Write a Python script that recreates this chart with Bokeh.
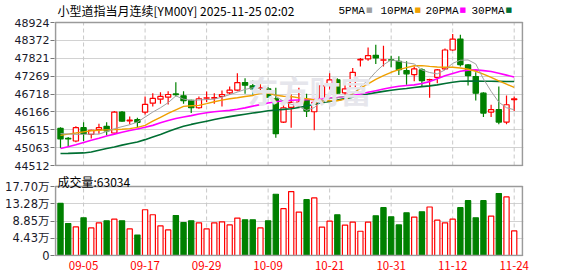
from bokeh.plotting import figure
from bokeh.layouts import column
from bokeh.models import ColumnDataSource, FixedTicker, Label, Range1d
from bokeh.embed import file_html
from bokeh.resources import INLINE

# ---------------- data ----------------
dates = ["09-02", "09-03", "09-04", "09-05", "09-08", "09-09", "09-10", "09-11", "09-12", "09-15",
         "09-16", "09-17", "09-18", "09-19", "09-22", "09-23", "09-24", "09-25", "09-26", "09-29",
         "09-30", "10-01", "10-02", "10-03", "10-06", "10-07", "10-08", "10-09", "10-10", "10-13",
         "10-14", "10-15", "10-16", "10-17", "10-20", "10-21", "10-22", "10-23", "10-24", "10-27",
         "10-28", "10-29", "10-30", "10-31", "11-03", "11-04", "11-05", "11-06", "11-07", "11-10",
         "11-11", "11-12", "11-13", "11-14", "11-17", "11-18", "11-19", "11-20", "11-21", "11-24"]

opens = [45659, 45350, 45268, 45680, 45474, 45618, 45720, 45514, 46159, 45890,
         45925, 46159, 46436, 46559, 46621, 46720, 46663, 46519, 46294, 46590,
         46590, 46642, 46755, 46835, 47072, 46970, 46890, 46878, 46571, 45852,
         46305, 46450, 46540, 46171, 46519, 47001, 47155, 46755, 46909, 47770,
         47800, 47910, 47760, 47775, 47726, 47440, 47317, 47462, 47150, 47234,
         47492, 48076, 48414, 47615, 47256, 46743, 46159, 46233, 45852, 46540]
highs = [45690, 45391, 45720, 45843, 45618, 45802, 45843, 46190, 46190, 46027,
         45987, 46642, 46744, 46775, 46806, 47081, 46806, 46540, 46642, 46796,
         46744, 46826, 46949, 47357, 47204, 47133, 47102, 46928, 46909, 46396,
         46700, 46909, 46724, 46519, 46980, 47357, 47204, 47001, 47523, 47830,
         48156, 48239, 48208, 47901, 47880, 47726, 47563, 47511, 47185, 47492,
         48125, 48568, 48546, 47646, 47388, 46775, 46386, 46949, 46672, 46642]
lows = [45053, 45084, 45230, 45268, 45342, 45495, 45434, 45495, 45864, 45782,
        45699, 46089, 46335, 46417, 46396, 46642, 46417, 46129, 46263, 46468,
        46417, 46335, 46703, 46806, 46724, 46703, 46775, 46601, 45372, 45821,
        45680, 46294, 46006, 45597, 46466, 46847, 46724, 46703, 46878, 47563,
        47747, 47646, 47563, 47542, 47308, 47001, 47112, 46949, 46601, 47050,
        47462, 48055, 47563, 46980, 46519, 46006, 46006, 45782, 45782, 46190]
closes = [45330, 45330, 45680, 45495, 45597, 45680, 45577, 46159, 45883, 45910,
          45843, 46396, 46580, 46642, 46703, 46700, 46509, 46294, 46571, 46601,
          46605, 46703, 46835, 47072, 46989, 46878, 46905, 46621, 45495, 46294,
          46459, 46465, 46190, 46457, 46970, 47155, 46743, 46878, 47388, 47785,
          47901, 47830, 47775, 47765, 47471, 47339, 47492, 47133, 47160, 47462,
          48076, 48414, 47624, 47287, 46743, 46129, 46233, 45852, 46386, 46570]

ma5 = [45495, 45485, 45474, 45474, 45480, 45480, 45560, 45649, 45710, 45770,
       45850, 46006, 46160, 46294, 46450, 46660, 46560, 46519, 46535, 46545,
       46560, 46620, 46700, 46775, 46860, 46909, 46890, 46878, 46650, 46490,
       46400, 46330, 46212, 46300, 46519, 46580, 46601, 46650, 46703, 46950,
       47133, 47400, 47620, 47769, 47726, 47680, 47646, 47460, 47380, 47339,
       47462, 47665, 47760, 47769, 47646, 47185, 46800, 46466, 46294, 46233]
ma10 = [45443, 45480, 45514, 45550, 45585, 45600, 45610, 45618, 45630, 45650,
        45690, 45751, 45880, 46000, 46120, 46230, 46335, 46355, 46366, 46420,
        46480, 46530, 46570, 46601, 46640, 46672, 46740, 46750, 46680, 46650,
        46642, 46600, 46570, 46540, 46519, 46510, 46509, 46560, 46724, 46900,
        47032, 47170, 47287, 47388, 47470, 47530, 47590, 47594, 47570, 47550,
        47545, 47542, 47520, 47480, 47420, 47330, 47230, 47120, 47020, 46920]
ma20 = [45035, 45090, 45150, 45219, 45290, 45350, 45420, 45480, 45540, 45590,
        45640, 45690, 45750, 45830, 45900, 45960, 46006, 46050, 46100, 46140,
        46170, 46195, 46212, 46250, 46290, 46344, 46390, 46440, 46480, 46510,
        46525, 46535, 46545, 46555, 46570, 46590, 46610, 46640, 46672, 46720,
        46770, 46820, 46870, 46920, 46955, 46980, 47000, 47040, 47100, 47190,
        47280, 47350, 47420, 47455, 47462, 47440, 47410, 47360, 47300, 47240]
ma30 = [44880, 44885, 44895, 44900, 44930, 44985, 45035, 45084, 45140, 45190,
        45238, 45310, 45391, 45470, 45560, 45649, 45720, 45780, 45830, 45880,
        45930, 45975, 46020, 46058, 46095, 46130, 46165, 46200, 46225, 46245,
        46264, 46300, 46350, 46400, 46450, 46490, 46530, 46575, 46620, 46670,
        46720, 46760, 46800, 46835, 46865, 46890, 46920, 46945, 46970, 47000,
        47040, 47080, 47112, 47115, 47115, 47112, 47110, 47108, 47105, 47102]

volumes = [133700, 81900, 73300, 96700, 70800, 83700, 88900, 93300, 88900, 68200,
           52600, 117400, 104500, 75900, 65600, 102600, 84500, 88900, 83700, 68200,
           83700, 86300, 78500, 95900, 91500, 91500, 70800, 88900, 157100, 120000,
           164100, 111400, 143300, 147700, 72600, 88100, 104500, 77800, 85500, 62200,
           85500, 101900, 122600, 99300, 78500, 109600, 98500, 112200, 124400, 90700,
           83700, 93300, 122600, 140700, 96700, 140700, 101100, 158900, 150300, 63034]
vol_up = [0, 0, 1, 0, 1, 1, 0, 1, 0, 1,
          0, 1, 1, 1, 1, 0, 0, 0, 1, 1,
          1, 1, 1, 1, 0, 0, 1, 0, 0, 1,
          1, 1, 0, 1, 1, 1, 0, 1, 1, 1,
          1, 0, 0, 0, 0, 0, 1, 0, 1, 1,
          1, 1, 0, 0, 0, 0, 1, 0, 1, 1]

price_tick_labels = ["48924", "48372", "47821", "47269", "46718", "46166", "45615", "45063", "44512"]
vol_ticks = [0, 44300, 88500, 132800, 177000]
vol_tick_labels = ["0", "4.43万", "8.85万", "13.28万", "17.70万"]

title_text = "小型道指当月连续[YM00Y] 2025-11-25 02:02"
ma_names = ["5PMA", "10PMA", "20PMA", "30PMA"]
vol_title = "成交量:63034"

# ---------------- style / geometry ----------------
RED = "#ff0000"
GREEN = "#008000"
MA_COLORS = ["#a0a0a0", "#f0a000", "#ff00ff", "#006f33"]
GRID = "#d2d2d2"
FRAME = "#9a9a9a"
TICK_FONT = "DejaVu Sans, Noto Sans CJK SC"
CJK_FONT = "Noto Sans CJK SC"
MONO_FONT = "Liberation Mono"

W = 578
H1, H2 = 172, 104
BOX_L, BOX_R = 55, 522          # panel box, page pixels
P_TOP, P_BOT = 22, 165          # price box
V_TOP, V_BOT = 186, 255         # volume box
FR_L, FR_R = BOX_L - 1, BOX_R + 1

n = len(dates)
idx = list(range(n))
label_idx = list(range(3, n, 8))

box_x0, box_x1 = -0.65, 60.08
sx = (box_x1 - box_x0) / (BOX_R - BOX_L)
p_lo, p_hi = float(price_tick_labels[-1]), float(price_tick_labels[0])
s1 = (p_hi - p_lo) / (P_BOT - P_TOP)
v_hi = float(vol_ticks[-1])
s2 = v_hi / (V_BOT - V_TOP)

x_range = Range1d(box_x0 - sx, box_x1 + sx)


def px_x(px):
    return box_x0 + (px - BOX_L) * sx


def py1(py):
    return p_hi - (py - P_TOP) * s1


def py2(py):
    return v_hi - (py - V_TOP) * s2


up = [c >= o for o, c in zip(opens, closes)]
src = ColumnDataSource(dict(
    x=idx, h=highs, l=lows,
    top=[max(o, c) for o, c in zip(opens, closes)],
    bottom=[min(o, c) for o, c in zip(opens, closes)],
    line=[RED if u else GREEN for u in up],
    fill=["#ffffff" if u else GREEN for u in up],
))
vsrc = ColumnDataSource(dict(
    x=idx, v=volumes,
    line=[RED if u else GREEN for u in vol_up],
    fill=["#ffffff" if u else GREEN for u in vol_up],
))


def style_common(p, lo, hi):
    p.background_fill_color = "white"
    p.border_fill_color = "white"
    p.outline_line_color = None
    p.xgrid.visible = False
    p.ygrid.grid_line_color = GRID
    p.ygrid.grid_line_width = 1.2
    ax = p.yaxis[0]
    ax.axis_line_color = None
    ax.major_tick_out = 4
    ax.major_tick_in = 0
    ax.minor_tick_line_color = None
    ax.major_tick_line_color = "#777777"
    ax.major_label_standoff = 1
    ax.major_label_text_font = TICK_FONT
    ax.major_label_text_font_size = "11px"
    ax.major_label_text_color = "#1a1a2a"
    # dashed vertical grid at the labelled dates, limited to the panel box
    p.segment(x0=label_idx, y0=[lo] * len(label_idx), x1=label_idx, y1=[hi] * len(label_idx),
              line_color="#c8c8c8", line_dash="4 3", line_width=1)


def draw_box(p, lo, hi):
    p.quad(left=[box_x0], right=[box_x1], bottom=[lo], top=[hi], fill_color=None,
           line_color=FRAME, line_width=1.6)


# ---------------- price panel ----------------
p1 = figure(width=W, height=H1, x_range=x_range,
            y_range=Range1d(p_lo - s1, p_hi + P_TOP * s1),
            x_axis_location=None, toolbar_location=None, output_backend="svg", title=None,
            min_border_left=FR_L, min_border_right=W - FR_R, min_border_top=0,
            min_border_bottom=H1 - (P_BOT + 1))
style_common(p1, p_lo, p_hi)
p1.yaxis[0].ticker = FixedTicker(ticks=[int(s) for s in price_tick_labels])
p1.yaxis[0].major_label_overrides = {int(s): s for s in price_tick_labels}

# watermark
p1.add_layout(Label(x=px_x(247), y=py1(89), text="东方财富", text_font=CJK_FONT,
                    text_font_size="31px", text_font_style="bold", text_color="#e6e6ec",
                    text_baseline="middle", text_align="left"))

p1.segment(x0="x", y0="h", x1="x", y1="l", color="line", line_width=1.2, source=src)
p1.vbar(x="x", width=0.68, top="top", bottom="bottom", fill_color="fill",
        line_color="line", line_width=1.2, source=src)

for vals, col, lw in zip([ma30, ma20, ma10, ma5], MA_COLORS[::-1], [1.6, 1.6, 1.4, 1.0]):
    p1.line(idx, vals, line_color=col, line_width=lw)

draw_box(p1, p_lo, p_hi)

p1.add_layout(Label(x=px_x(57), y=py1(10), text=title_text, text_font=CJK_FONT,
                    text_font_size="12px", text_color="#000000", text_baseline="middle"))
leg_x = [338, 380, 425, 471]
for name, col, lx in zip(ma_names, MA_COLORS, leg_x):
    tw = 6.6 * len(name)
    p1.add_layout(Label(x=px_x(lx), y=py1(10), text=name, text_font=MONO_FONT,
                        text_font_size="11px", text_color="#000000", text_baseline="middle"))
    p1.add_layout(Label(x=px_x(lx + tw + 1), y=py1(9), text="■", text_font="DejaVu Sans",
                        text_font_size="7px", text_color=col, text_baseline="middle"))

# ---------------- volume panel ----------------
p2 = figure(width=W, height=H2, x_range=x_range,
            y_range=Range1d(-s2, v_hi + (V_TOP - H1) * s2),
            toolbar_location=None, output_backend="svg", title=None,
            min_border_left=FR_L, min_border_right=W - FR_R, min_border_top=0,
            min_border_bottom=H1 + H2 - (V_BOT + 1))
style_common(p2, 0, v_hi)
p2.yaxis[0].ticker = FixedTicker(ticks=vol_ticks)
p2.yaxis[0].major_label_overrides = dict(zip(vol_ticks, vol_tick_labels))
p2.yaxis[0].major_label_text_font_size = "11.5px"

xa = p2.xaxis[0]
xa.ticker = FixedTicker(ticks=label_idx)
xa.major_label_overrides = {i: dates[i] for i in label_idx}
xa.axis_line_color = None
xa.major_tick_out = 0
xa.major_tick_in = 0
xa.minor_tick_line_color = None
xa.major_label_standoff = 4
xa.major_label_text_color = RED
xa.major_label_text_font = CJK_FONT
xa.major_label_text_font_size = "11.5px"

p2.vbar(x="x", width=0.68, top="v", bottom=0, fill_color="fill", line_color="line",
        line_width=1.2, source=vsrc)
draw_box(p2, 0, v_hi)

p2.add_layout(Label(x=px_x(57), y=py2(181), text=vol_title, text_font=CJK_FONT,
                    text_font_size="12px", text_color="#000000", text_baseline="middle"))

layout = column(p1, p2, spacing=0)
open("out.html", "w").write(file_html(layout, INLINE))
